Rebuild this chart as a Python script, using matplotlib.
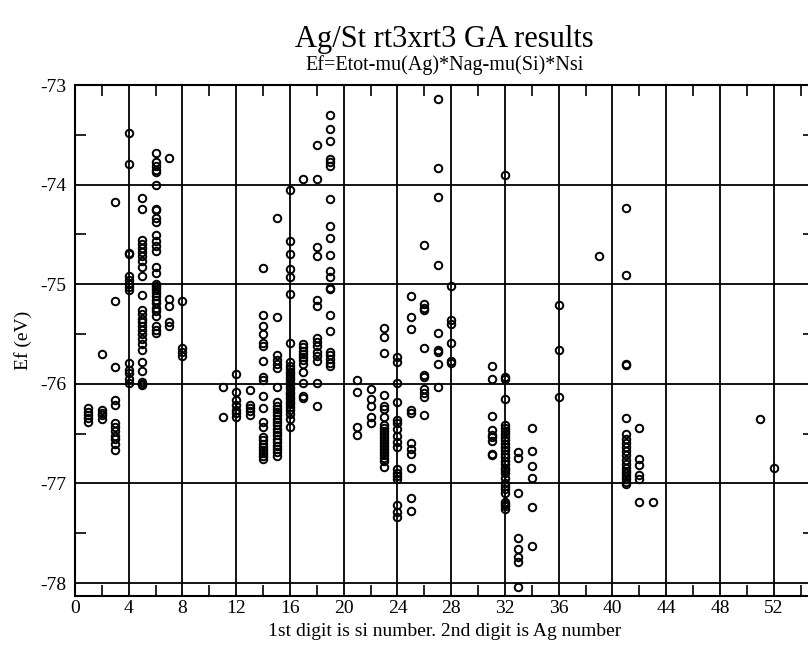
import matplotlib
matplotlib.use("Agg")
import matplotlib.pyplot as plt
from matplotlib.ticker import MultipleLocator

# Ef values (eV) keyed by configuration number (1st digit Si count, 2nd digit Ag count)
si0 = {
    1: [-76.24, -76.28, -76.31, -76.34, -76.38],
    2: [-75.70, -76.26, -76.29, -76.31, -76.35],
    3: [-74.17, -75.17, -75.83, -76.16, -76.21, -76.39, -76.43, -76.47, -76.52, -76.55, -76.60, -76.66],
    4: [-73.48, -73.79, -74.69, -74.70, -74.92, -74.96, -75.00, -75.03, -75.06, -75.79, -75.86, -75.89, -75.95, -75.99],
    5: [-74.13, -74.24, -74.56, -74.60, -74.64, -74.68, -74.72, -74.77, -74.83, -74.92, -75.11, -75.26, -75.30,
        -75.35, -75.38, -75.42, -75.46, -75.50, -75.55, -75.60, -75.66, -75.78, -75.87, -75.98, -76.00, -76.01],
    6: [-73.68, -73.77, -73.81, -73.85, -73.87, -74.00, -74.24, -74.25, -74.34, -74.38, -74.51, -74.57, -74.62,
        -74.67, -74.83, -74.89, -75.00, -75.02, -75.04, -75.06, -75.09, -75.12, -75.16, -75.19, -75.24, -75.27,
        -75.32, -75.42, -75.46, -75.49],
    7: [-73.73, -75.15, -75.22, -75.38, -75.42],
    8: [-75.17, -75.64, -75.68, -75.72],
}
si1 = {
    11: [-76.03, -76.33],
    12: [-75.90, -76.08, -76.16, -76.21, -76.26, -76.29, -76.33],
    13: [-76.06, -76.21, -76.24, -76.27, -76.31],
    14: [-74.84, -75.31, -75.42, -75.50, -75.59, -75.62, -75.77, -75.93, -75.96, -76.12, -76.24, -76.38, -76.43,
         -76.53, -76.56, -76.60, -76.63, -76.66, -76.69, -76.72, -76.75],
    15: [-74.34, -75.33, -75.71, -75.76, -75.80, -75.84, -76.03, -76.18, -76.22, -76.25, -76.28, -76.31, -76.35,
         -76.38, -76.41, -76.45, -76.48, -76.51, -76.55, -76.58, -76.62, -76.65, -76.68, -76.72],
    16: [-74.05, -74.57, -74.70, -74.85, -74.93, -75.10, -75.59, -75.78, -75.82, -75.85, -75.88, -75.90, -75.93,
         -75.95, -75.98, -76.00, -76.03, -76.05, -76.08, -76.10, -76.13, -76.15, -76.18, -76.20, -76.23, -76.26,
         -76.30, -76.35, -76.43],
    17: [-73.94, -75.60, -75.63, -75.67, -75.70, -75.73, -75.76, -75.80, -75.88, -75.99, -76.12, -76.14],
    18: [-73.60, -73.94, -74.63, -74.72, -75.16, -75.22, -75.54, -75.58, -75.62, -75.68, -75.72, -75.77, -75.99, -76.22],
    19: [-73.30, -73.44, -73.56, -73.74, -73.77, -73.81, -74.14, -74.42, -74.54, -74.71, -74.87, -74.93, -75.04,
         -75.05, -75.31, -75.47, -75.68, -75.71, -75.75, -75.79, -75.82],
}
si2 = {
    21: [-75.96, -76.08, -76.43, -76.51],
    22: [-76.05, -76.15, -76.22, -76.33, -76.39],
    23: [-75.44, -75.53, -75.69, -76.11, -76.22, -76.25, -76.33, -76.41, -76.44, -76.47, -76.50, -76.53, -76.56,
         -76.59, -76.62, -76.65, -76.68, -76.71, -76.74, -76.77, -76.83],
    24: [-75.73, -75.78, -75.99, -76.18, -76.36, -76.39, -76.45, -76.52, -76.58, -76.63, -76.86, -76.90, -76.93,
         -76.96, -77.22, -77.29, -77.34],
    25: [-75.12, -75.33, -75.45, -76.26, -76.29, -76.59, -76.65, -76.70, -76.85, -77.15, -77.28],
    26: [-74.61, -75.20, -75.24, -75.26, -75.64, -75.91, -75.93, -76.05, -76.09, -76.13, -76.31],
    27: [-73.14, -73.83, -74.12, -74.81, -75.49, -75.66, -75.68, -75.80, -76.03],
    28: [-75.02, -75.36, -75.40, -75.59, -75.77, -75.79],
}
si3 = {
    31: [-75.82, -75.95, -76.32, -76.46, -76.51, -76.53, -76.57, -76.70, -76.71],
    32: [-73.90, -75.93, -75.95, -76.15, -76.41, -76.44, -76.47, -76.50, -76.53, -76.56, -76.60, -76.63, -76.66,
         -76.70, -76.73, -76.77, -76.80, -76.84, -76.87, -76.90, -76.95, -77.00, -77.03, -77.06, -77.10, -77.19,
         -77.21, -77.23, -77.26],
    33: [-76.68, -76.74, -77.10, -77.55, -77.66, -77.74, -77.79, -78.04],
    34: [-76.44, -76.67, -76.82, -76.95, -77.24, -77.63],
    36: [-75.21, -75.66, -76.13],
    39: [-74.72],
}
si4 = {
    41: [-74.23, -74.91, -75.80, -75.81, -76.34, -76.50, -76.55, -76.59, -76.63, -76.67, -76.71, -76.76, -76.80,
         -76.85, -76.88, -76.90, -76.93, -76.96, -76.99, -77.01],
    42: [-76.44, -76.75, -76.81, -76.92, -76.96, -77.19],
    43: [-77.19],
}
si5 = {
    51: [-76.35],
    52: [-76.84],
}

x_ticks = [0, 4, 8, 12, 16, 20, 24, 28, 32, 36, 40, 44, 48, 52]
y_ticks = [-78, -77, -76, -75, -74, -73]

title = "Ag/St rt3xrt3 GA results"
subtitle = "Ef=Etot-mu(Ag)*Nag-mu(Si)*Nsi"
xlabel = "1st digit is si number. 2nd digit is Ag number"
ylabel = "Ef (eV)"

plt.rcParams['font.family'] = ['Liberation Serif', 'DejaVu Serif']

W, H = 808, 656
fig = plt.figure(figsize=(W / 100, H / 100), dpi=100)
left_px, right_px, top_px, bottom_px = 75, 814, 85, 596
ax = fig.add_axes([left_px / W, 1 - bottom_px / H, (right_px - left_px) / W, (bottom_px - top_px) / H])

for group in (si0, si1, si2, si3, si4, si5):
    for cfg, vals in group.items():
        ax.plot([cfg] * len(vals), vals, linestyle='none', marker='o', markersize=5.4,
                markerfacecolor='none', markeredgecolor='black', markeredgewidth=1.4, zorder=3)

ax.set_xlim(0, 55)
ax.set_ylim(-78.13, -73)
ax.set_xticks(x_ticks)
ax.set_yticks(y_ticks)
ax.set_xticklabels([str(v) for v in x_ticks])
ax.set_yticklabels([str(v) for v in y_ticks])
ax.xaxis.set_minor_locator(MultipleLocator(2))
ax.yaxis.set_minor_locator(MultipleLocator(0.5))
ax.grid(True, which='major', color='black', linewidth=1.3)
ax.set_axisbelow(True)
ax.tick_params(which='both', direction='in', top=True, right=True, labelsize=14, color='black')
ax.tick_params(axis='x', which='major', length=0, pad=3)
ax.tick_params(axis='y', which='major', length=0, pad=6)
ax.tick_params(which='minor', length=8, width=1.2)
for s in ax.spines.values():
    s.set_linewidth(1.5)
    s.set_color('black')

ax.set_xlabel(xlabel, fontsize=14, labelpad=4)
ax.set_ylabel(ylabel, fontsize=14, labelpad=6)

cx = (left_px + right_px) / 2 / W
fig.text(cx, 1 - 40 / H, title, ha='center', va='center', fontsize=22)
fig.text(cx, 1 - 65 / H, subtitle, ha='center', va='center', fontsize=14.5)

fig.savefig("out.png", dpi=100)
